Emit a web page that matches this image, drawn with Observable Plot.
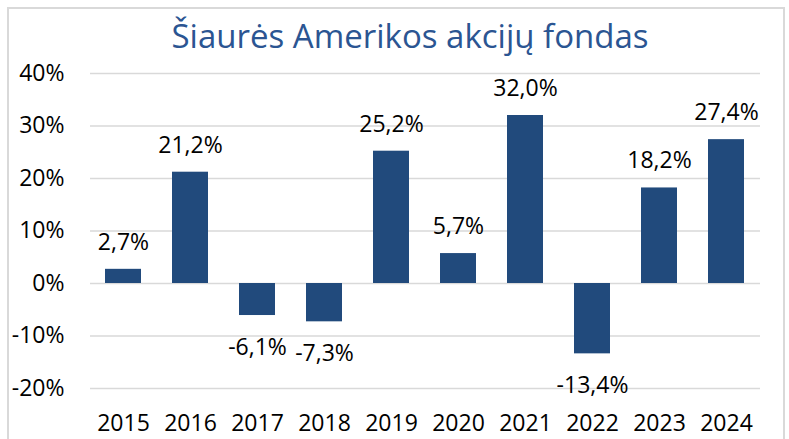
<!DOCTYPE html>
<html>
<head>
<meta charset="utf-8">
<script src="https://cdn.jsdelivr.net/npm/d3@7"></script>
<script src="https://cdn.jsdelivr.net/npm/@observablehq/plot@0.6"></script>
<style>
  html, body { margin: 0; padding: 0; background: #fff; width: 789px; height: 439px; overflow: hidden; }
  #frame { position: absolute; left: 7px; top: 7px; width: 778px; height: 440px; border: 2px solid #d9d9d9; border-bottom: none; box-sizing: border-box; }
  #title { position: absolute; left: 0; top: 14px; width: 820px; text-align: center; font-family: "Open Sans", sans-serif; font-size: 33px; line-height: 44px; color: #2b5592; z-index: 2; }
  #chart { position: absolute; left: 0; top: 40px; z-index: 1; }
</style>
</head>
<body>
<div id="frame"></div>
<div id="title">Šiaurės Amerikos akcijų fondas</div>
<div id="chart"></div>
<script>
const years = ["2015","2016","2017","2018","2019","2020","2021","2022","2023","2024"];
const returns = [2.7, 21.2, -6.1, -7.3, 25.2, 5.7, 32.0, -13.4, 18.2, 27.4];
const yTicks = [-20, -10, 0, 10, 20, 30, 40];

const data = years.map((y, i) => ({year: y, value: returns[i]}));
const fmt = v => v.toFixed(1).replace(".", ",") + "%";

const chart = Plot.plot({
  width: 789,
  height: 399,
  marginTop: 33,
  marginBottom: 51,
  marginLeft: 90,
  marginRight: 29,
  style: {fontFamily: "Open Sans, sans-serif", fontSize: "23px", color: "#000", background: "transparent"},
  x: {domain: years, paddingInner: 0.46, paddingOuter: 0.23, label: null, tickSize: 0, tickPadding: 26},
  y: {domain: [-20, 40], ticks: yTicks, tickFormat: d => d + "%", label: null, tickSize: 0, tickPadding: 26},
  marks: [
    Plot.ruleY(yTicks, {stroke: "#d9d9d9", strokeWidth: 1.5}),
    Plot.barY(data, {x: "year", y: "value", fill: "#214a7c"}),
    Plot.text(data.filter(d => d.value >= 0), {x: "year", y: "value", text: d => fmt(d.value), dy: -27, fill: "#000", fontSize: 23}),
    Plot.text(data.filter(d => d.value < 0), {x: "year", y: "value", text: d => fmt(d.value), dy: 32, fill: "#000", fontSize: 23})
  ]
});
document.getElementById("chart").appendChild(chart);
</script>
</body>
</html>
